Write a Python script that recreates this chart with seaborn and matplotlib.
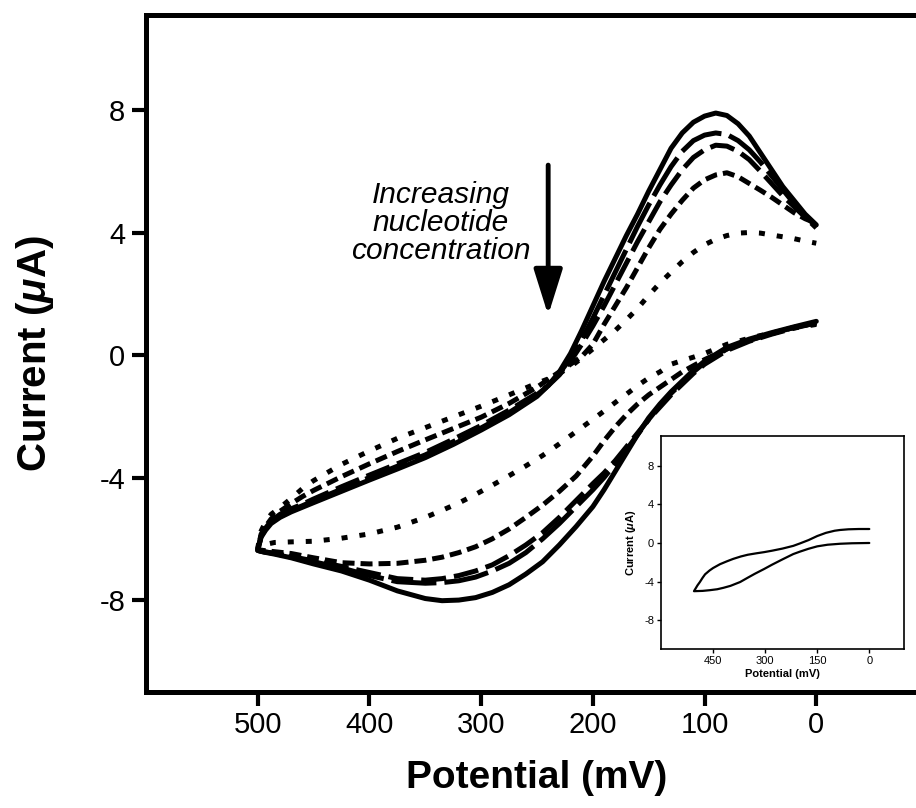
import numpy as np
import pandas as pd
import matplotlib
matplotlib.use("Agg")
import matplotlib.pyplot as plt
import seaborn as sns

# potentials (mV): return half (0 -> 500) and forward half (500 -> 0)
POT_LOWER = [0, 20, 40, 60, 80, 100, 110, 120, 130, 140, 150, 160, 170, 180,
             190, 200, 215, 230, 245, 260, 275, 290, 305, 320, 335, 350, 375,
             400, 425, 450, 470, 485, 495, 500]
POT_UPPER = [500, 497, 493, 488, 480, 470, 460, 450, 425, 400, 375, 350, 325,
             300, 275, 250, 240, 230, 220, 210, 200, 190, 180, 170, 160, 150,
             140, 130, 120, 110, 100, 90, 80, 70, 60, 50, 40, 30, 20, 10, 0]

# current (uA)
SOLID_LOWER = [1.1, 0.92, 0.73, 0.52, 0.25, -0.2, -0.5, -0.85, -1.2, -1.6,
               -2.05, -2.6, -3.2, -3.8, -4.4, -4.95, -5.6, -6.2, -6.75, -7.15,
               -7.5, -7.75, -7.92, -8.0, -8.02, -7.95, -7.7, -7.35, -7.05,
               -6.82, -6.62, -6.5, -6.43, -6.38]
SOLID_UPPER = [-6.38, -5.95, -5.72, -5.5, -5.3, -5.12, -4.97, -4.82, -4.45,
               -4.08, -3.72, -3.35, -2.92, -2.45, -1.95, -1.35, -1.0, -0.55,
               0.05, 0.8, 1.6, 2.4, 3.15, 3.9, 4.6, 5.35, 6.05, 6.75, 7.25,
               7.6, 7.8, 7.9, 7.82, 7.55, 7.15, 6.6, 6.05, 5.5, 5.05, 4.6, 4.25]

LONG_LOWER = [1.05, 0.9, 0.7, 0.48, 0.2, -0.25, -0.55, -0.9, -1.25, -1.65,
              -2.1, -2.6, -3.1, -3.55, -4.0, -4.4, -4.95, -5.5, -6.0, -6.45,
              -6.8, -7.05, -7.25, -7.37, -7.43, -7.45, -7.4, -7.2, -6.95,
              -6.75, -6.6, -6.48, -6.42, -6.38]
LONG_UPPER = [-6.38, -5.92, -5.68, -5.45, -5.25, -5.07, -4.92, -4.76, -4.38,
              -4.0, -3.63, -3.26, -2.83, -2.38, -1.88, -1.3, -1.0, -0.6, -0.1,
              0.5, 1.2, 1.95, 2.7, 3.45, 4.2, 4.9, 5.55, 6.15, 6.65, 7.0, 7.18,
              7.25, 7.2, 7.0, 6.7, 6.3, 5.85, 5.4, 4.95, 4.55, 4.2]

MED_LOWER = [1.05, 0.88, 0.68, 0.45, 0.15, -0.3, -0.6, -0.95, -1.3, -1.7,
             -2.1, -2.55, -3.0, -3.45, -3.85, -4.2, -4.75, -5.3, -5.8, -6.2,
             -6.55, -6.85, -7.05, -7.2, -7.3, -7.35, -7.3, -7.1, -6.9, -6.72,
             -6.58, -6.47, -6.42, -6.38]
MED_UPPER = [-6.38, -5.9, -5.65, -5.42, -5.2, -5.02, -4.87, -4.7, -4.3, -3.92,
             -3.55, -3.18, -2.75, -2.3, -1.8, -1.25, -1.0, -0.65, -0.2, 0.35,
             0.95, 1.6, 2.3, 3.0, 3.7, 4.35, 5.0, 5.55, 6.05, 6.45, 6.7, 6.85,
             6.82, 6.65, 6.38, 6.0, 5.6, 5.2, 4.85, 4.5, 4.15]

SHORT_LOWER = [1.05, 0.9, 0.7, 0.48, 0.2, -0.15, -0.35, -0.55, -0.8, -1.05,
               -1.3, -1.6, -1.95, -2.35, -2.8, -3.3, -3.95, -4.45, -4.9, -5.3,
               -5.68, -6.0, -6.26, -6.45, -6.6, -6.7, -6.8, -6.82, -6.78,
               -6.62, -6.48, -6.42, -6.38, -6.35]
SHORT_UPPER = [-6.35, -5.85, -5.6, -5.35, -5.1, -4.85, -4.62, -4.42, -3.97,
               -3.55, -3.15, -2.77, -2.4, -2.03, -1.58, -1.05, -0.8, -0.55,
               -0.3, -0.05, 0.35, 1.0, 1.6, 2.2, 2.85, 3.5, 4.1, 4.6, 5.05,
               5.45, 5.72, 5.88, 5.95, 5.82, 5.6, 5.38, 5.15, 4.9, 4.65, 4.45,
               4.3]

DOT_LOWER = [1.0, 0.88, 0.72, 0.55, 0.35, 0.05, -0.07, -0.18, -0.3, -0.55,
             -0.75, -1.0, -1.28, -1.55, -1.83, -2.1, -2.5, -2.9, -3.28, -3.62,
             -3.94, -4.25, -4.55, -4.83, -5.07, -5.3, -5.62, -5.84, -5.98,
             -6.08, -6.1, -6.12, -6.2, -6.3]
DOT_UPPER = [-6.3, -5.75, -5.45, -5.2, -4.98, -4.68, -4.36, -4.1, -3.57, -3.13,
             -2.72, -2.37, -2.02, -1.67, -1.3, -0.92, -0.78, -0.6, -0.38, -0.1,
             0.2, 0.5, 0.8, 1.15, 1.52, 1.95, 2.35, 2.7, 3.05, 3.35, 3.6, 3.78,
             3.9, 3.98, 4.0, 3.98, 3.92, 3.86, 3.8, 3.72, 3.65]

# inset: electrode without the complex
INSET_POT = [0, 50, 84, 120, 150, 175, 200, 219, 250, 280, 303, 330, 350, 372,
             400, 420, 438, 460, 480, 505,
             500, 495, 488, 480, 473, 460, 450, 430, 410, 392, 370, 350, 325,
             303, 280, 250, 219, 200, 175, 150, 125, 100, 84, 60, 30, 0]
INSET_CUR = [0.0, -0.03, -0.08, -0.18, -0.35, -0.6, -0.9, -1.15, -1.7, -2.25,
             -2.7, -3.2, -3.6, -4.05, -4.45, -4.65, -4.8, -4.9, -4.97, -5.0,
             -4.7, -4.4, -4.05, -3.6, -3.25, -2.85, -2.6, -2.2, -1.9, -1.65,
             -1.4, -1.22, -1.07, -0.95, -0.8, -0.58, -0.3, -0.05, 0.3, 0.72,
             1.05, 1.27, 1.35, 1.42, 1.45, 1.45]

# line styles (on, off) in units of line width
STYLES = {
    "solid": "-",
    "long": (0, (9.0, 1.6)),
    "medium": (0, (5.0, 1.6)),
    "short": (0, (2.4, 1.2)),
    "dot": (0, (1.2, 2.4)),
}
CURVES = [
    ("solid", SOLID_LOWER, SOLID_UPPER),
    ("long", LONG_LOWER, LONG_UPPER),
    ("medium", MED_LOWER, MED_UPPER),
    ("short", SHORT_LOWER, SHORT_UPPER),
    ("dot", DOT_LOWER, DOT_UPPER),
]

sns.set_style("ticks")
plt.rcParams["font.family"] = ["Liberation Sans", "DejaVu Sans"]
plt.rcParams["mathtext.fontset"] = "custom"
plt.rcParams["mathtext.it"] = "Liberation Sans:italic:bold"
plt.rcParams["mathtext.rm"] = "Liberation Sans:bold"
plt.rcParams["axes.unicode_minus"] = False
for key in ["text.color", "axes.labelcolor", "xtick.color", "ytick.color",
            "xtick.labelcolor", "ytick.labelcolor"]:
    plt.rcParams[key] = "black"

fig = plt.figure(figsize=(9.16, 8.08), dpi=100)
ax = fig.add_axes([0.1594, 0.1436, 1.0131 - 0.1594, 0.9814 - 0.1436])

for name, lower, upper in CURVES:
    df = pd.DataFrame({
        "potential": POT_LOWER + POT_UPPER,
        "current": lower + upper,
    })
    sns.lineplot(data=df, x="potential", y="current", sort=False, estimator=None,
                 ax=ax, color="black", lw=3.6, linestyle=STYLES[name],
                 dash_capstyle="butt", solid_capstyle="round",
                 solid_joinstyle="round", dash_joinstyle="round")

ax.set_xlim(600, -100)
ax.set_ylim(-11, 11.1)
ax.set_xticks([500, 400, 300, 200, 100, 0])
ax.set_yticks([-8, -4, 0, 4, 8])
ax.tick_params(axis="both", direction="out", length=10, width=3,
               labelsize=21, color="black")
ax.tick_params(axis="x", pad=4)
ax.tick_params(axis="y", pad=5)
for sp in ax.spines.values():
    sp.set_linewidth(3.6)
    sp.set_color("black")
ax.set_xlabel("Potential (mV)", fontsize=28, fontweight="bold", labelpad=15)
ax.set_ylabel(r"Current ($\mu$A)", fontsize=29, fontweight="bold", labelpad=31)

ax.text(336, 4.3, "Increasing\nnucleotide\nconcentration", fontsize=21.5,
        style="italic", ha="center", va="center", linespacing=1.0)
ax.annotate("", xy=(240, 1.3), xytext=(240, 6.2),
            arrowprops=dict(arrowstyle="-|>,head_length=0.7,head_width=0.22",
                            mutation_scale=40, lw=3.5, color="black",
                            shrinkA=0, shrinkB=0))

# inset
ins = fig.add_axes([661 / 916, 1 - 649 / 808, 243 / 916, 213 / 808])
inset_df = pd.DataFrame({"potential": INSET_POT, "current": INSET_CUR})
sns.lineplot(data=inset_df, x="potential", y="current", sort=False,
             estimator=None, ax=ins, color="black", lw=1.6)
ins.set_xlim(600, -100)
ins.set_ylim(-11, 11.1)
ins.set_xticks([450, 300, 150, 0])
ins.set_yticks([-8, -4, 0, 4, 8])
ins.tick_params(axis="both", direction="out", length=3, width=1,
                labelsize=8, pad=2)
for sp in ins.spines.values():
    sp.set_linewidth(1.2)
    sp.set_color("black")
ins.set_xlabel("Potential (mV)", fontsize=8, fontweight="bold", labelpad=2)
ins.set_ylabel(r"Current ($\mu$A)", fontsize=8, fontweight="bold", labelpad=4)

fig.savefig("out.png", dpi=100)
